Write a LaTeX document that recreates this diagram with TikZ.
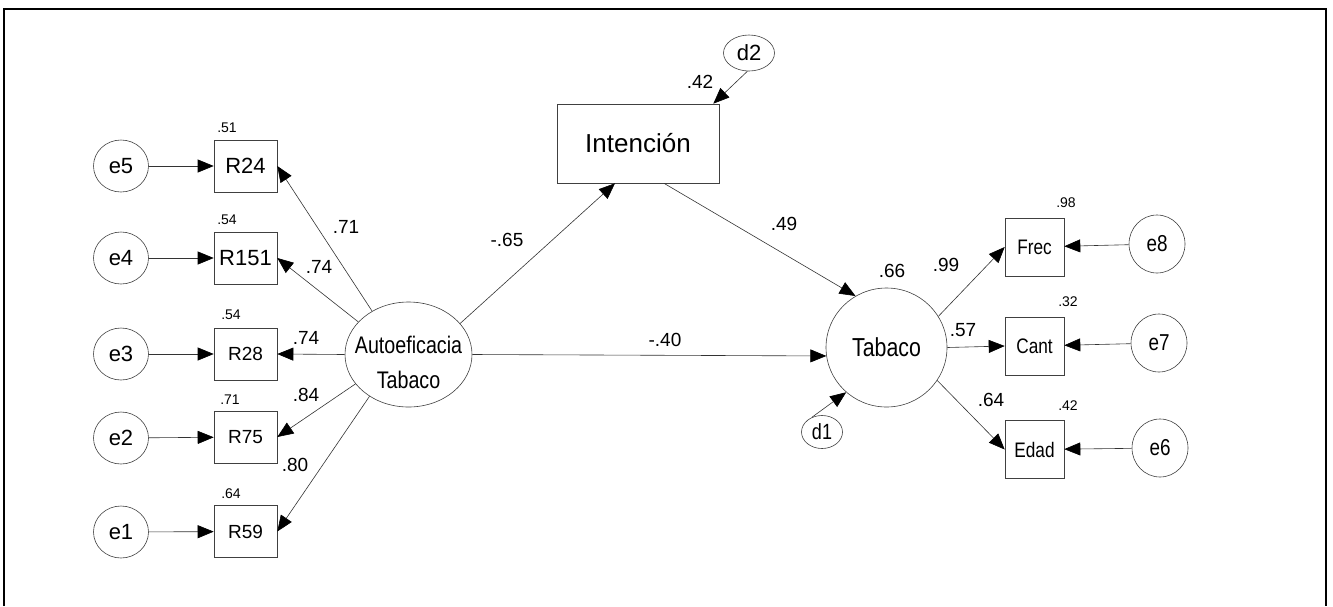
\documentclass[tikz,border=0pt]{standalone}
\usepackage{fontspec}
\setmainfont{Liberation Sans}
\newfontfamily\narrowfont[FakeStretch=0.82]{Liberation Sans}
\usetikzlibrary{arrows.meta,shapes.geometric}
\tikzset{
  every node/.style={inner sep=0pt},
  lat/.style={ellipse, draw=black!75, line width=0.6pt},
  obs/.style={rectangle, draw=black!75, line width=0.6pt},
  arr/.style={draw=black!80, line width=0.6pt, -{Triangle[length=16pt,width=13pt,color=black]}},
  coef/.style={font=\fontsize{19}{21}\selectfont},
  rsq/.style={font=\fontsize{14}{16}\selectfont},
  errl/.style={lat, minimum width=55pt, minimum height=52pt, font=\fontsize{22}{24}\selectfont},
  errr/.style={lat, minimum width=56pt, minimum height=58pt, font=\narrowfont\fontsize{23}{25}\selectfont},
  boxl/.style={obs, minimum width=63pt, minimum height=52pt},
  boxr/.style={obs, minimum width=59pt, minimum height=58pt, font=\narrowfont\fontsize{21}{23}\selectfont},
}
\begin{document}
\begin{tikzpicture}[x=1pt,y=-1pt]
\useasboundingbox (0,0) rectangle (1333,606);
\draw[line width=1.5pt] (4,606) -- (4,9) -- (1326,9) -- (1326,606);

% left error terms
\node[errl] (e5) at (121,166) {e5};
\node[errl] (e4) at (121,258) {e4};
\node[errl] (e3) at (121,354) {e3};
\node[errl] (e2) at (121,438) {e2};
\node[errl] (e1) at (121,532) {e1};

% left indicators
\node[boxl, font=\fontsize{22}{24}\selectfont] (R24) at (245.5,166) {R24};
\node[boxl, font=\fontsize{22}{24}\selectfont] (R151) at (245.5,258) {R151};
\node[boxl, font=\fontsize{19}{21}\selectfont] (R28) at (245.5,354) {R28};
\node[boxl, font=\fontsize{19}{21}\selectfont] (R75) at (245.5,437) {R75};
\node[boxl, font=\fontsize{19}{21}\selectfont] (R59) at (245.5,531.5) {R59};

\node[rsq] (q24) at (227,128) {.51};
\node[rsq] (q151) at (227,220) {.54};
\node[rsq] (q28) at (231,315) {.54};
\node[rsq] (q75) at (230,400) {.71};
\node[rsq] (q59) at (231,494) {.64};

% latent
\node[lat, minimum width=127pt, minimum height=105pt,
      label={[name=Atext, align=center, yshift=-8pt, font=\narrowfont\fontsize{24}{35}\selectfont]center:Autoeficacia\\Tabaco}] (A) at (408.5,354.5) {};
\node[obs, minimum width=162pt, minimum height=79pt, font=\fontsize{26}{28}\selectfont] (I) at (638,143.5) {Intención};
\node[lat, minimum width=51pt, minimum height=36pt, font=\fontsize{22}{24}\selectfont] (d2) at (749,53) {d2};
\node[lat, minimum width=121pt, minimum height=119pt, font=\narrowfont\fontsize{26}{28}\selectfont] (T) at (886.5,347.5) {Tabaco};
\node[lat, minimum width=41pt, minimum height=33pt, font=\narrowfont\fontsize{22}{24}\selectfont] (d1) at (822,432) {d1};

% right indicators
\node[boxr] (Frec) at (1034.5,247) {Frec};
\node[boxr] (Cant) at (1034.5,346) {Cant};
\node[boxr] (Edad) at (1034.5,449.5) {Edad};
\node[errr] (e8) at (1157,244) {e8};
\node[errr] (e7) at (1159,343) {e7};
\node[errr] (e6) at (1160,448) {e6};

\node[rsq] (qF) at (1066,203) {.98};
\node[rsq] (qC) at (1068,302) {.32};
\node[rsq] (qE) at (1068,406) {.42};

% arrows: errors to indicators
\draw[arr] (e5) -- (R24);
\draw[arr] (e4) -- (R151);
\draw[arr] (e3) -- (R28);
\draw[arr] (e2) -- (R75);
\draw[arr] (e1) -- (R59);
\draw[arr] (e8) -- (Frec);
\draw[arr] (e7) -- (Cant);
\draw[arr] (e6) -- (Edad);

% loadings
\draw[arr] (A.130) -- (R24.east);
\draw[arr] (A.147) -- (R151.east);
\draw[arr] (A.180) -- (R28.east);
\draw[arr] (A.209) -- (R75.east);
\draw[arr] (A.227) -- (R59.east);

\draw[arr] (A.31) -- ([xshift=-23pt]I.south);
\draw[arr] ([xshift=26pt]I.south) -- (T.121);
\draw[arr] (A.0) -- (T.188);
\draw[arr] (d2.265) -- ([xshift=-6pt]I.north east);
\draw[arr] (d1.125) -- (T.228);

\draw[arr] (T.31) -- (Frec.west);
\draw[arr] (T.0) -- (Cant.west);
\draw[arr] (T.327) -- (Edad.west);

% coefficients
\node[coef] (c1) at (346,227) {.71};
\node[coef] (c2) at (319,267) {.74};
\node[coef] (c3) at (306,338) {.74};
\node[coef] (c4) at (306,395) {.84};
\node[coef] (c5) at (295,465) {.80};
\node[coef] (c6) at (507,240) {-.65};
\node[coef] (c7) at (784,224) {.49};
\node[coef] (c8) at (665,340) {-.40};
\node[coef] (c9) at (700,82) {.42};
\node[coef] (c10) at (892,271) {.66};
\node[coef] (c11) at (946,265) {.99};
\node[coef] (c12) at (963,330) {.57};
\node[coef] (c13) at (991,400) {.64};
\end{tikzpicture}
\end{document}
